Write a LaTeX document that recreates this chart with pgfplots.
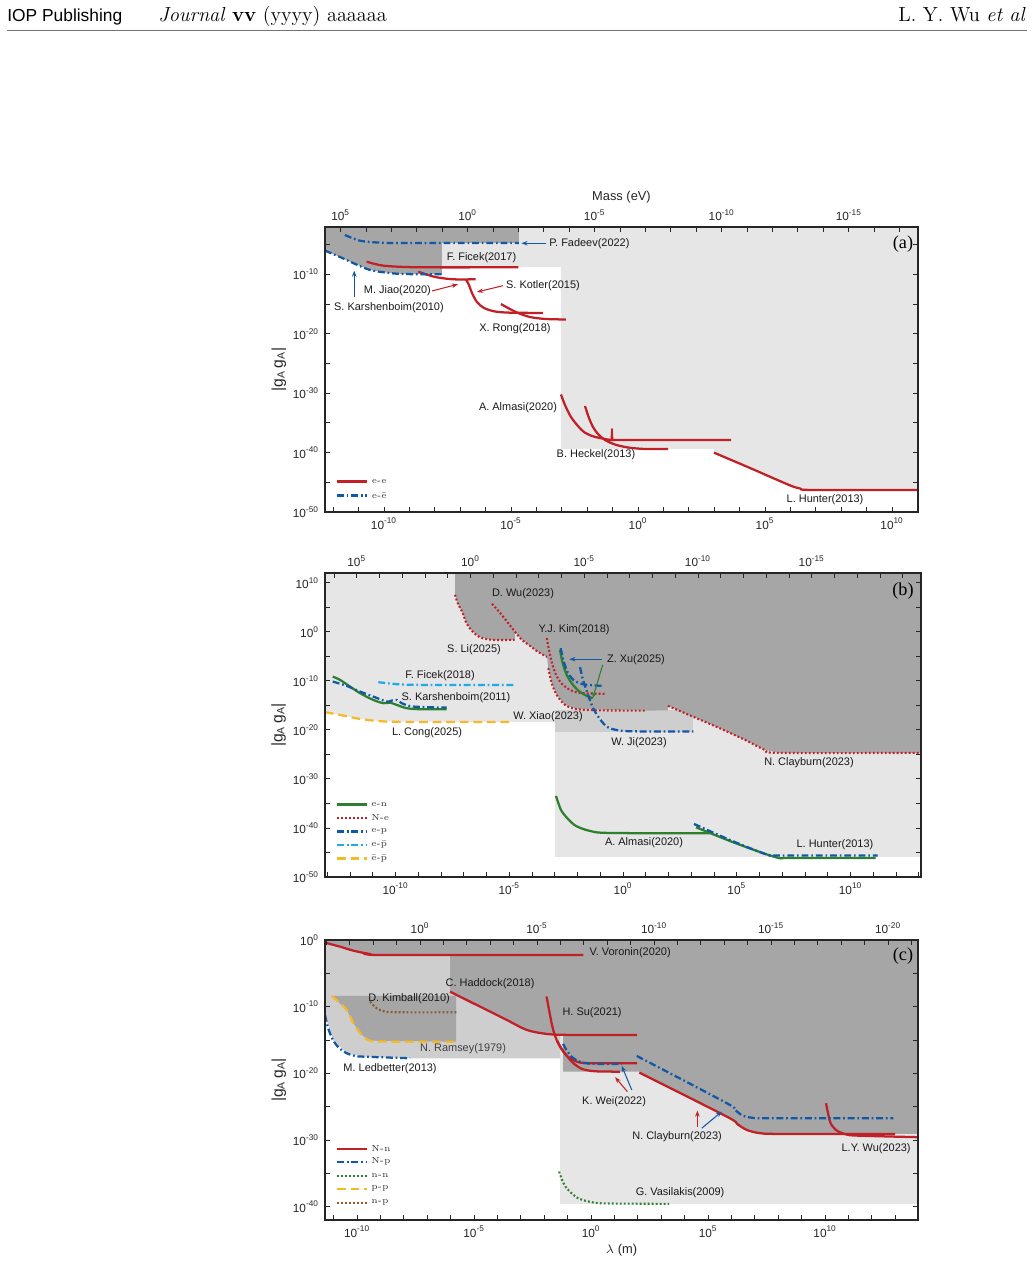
\documentclass[border=0pt]{standalone}
\usepackage{pgfplots}
\pgfplotsset{compat=1.18}
\usepackage{fontspec}
\newfontfamily\hel{Liberation Sans}
\newfontfamily\tnr{Liberation Serif}
\usetikzlibrary{arrows.meta}

\newcommand{\tp}[1]{10\textsuperscript{#1}}

\definecolor{cred}{RGB}{192,32,38}
\definecolor{cblue}{RGB}{18,88,165}
\definecolor{cgreen}{RGB}{45,128,45}
\definecolor{clblue}{RGB}{30,170,235}
\definecolor{cyel}{RGB}{245,186,40}
\definecolor{cbrown}{RGB}{140,90,50}
\definecolor{gdark}{RGB}{166,166,166}
\definecolor{glight}{RGB}{230,230,230}
\definecolor{gmid}{RGB}{206,206,206}

\tikzset{
  solidl/.style={line width=1.3pt},
  dashdotl/.style={line width=1.3pt, dash pattern=on 4pt off 1.6pt on 1pt off 1.6pt},
  dotl/.style={line width=1.2pt, dash pattern=on 1.1pt off 1.2pt},
  dashl/.style={line width=1.3pt, dash pattern=on 5pt off 2.8pt},
  lab/.style={font=\hel\fontsize{6.3}{7}\selectfont, inner sep=0pt, text=black!90},
  leg/.style={font=\fontsize{5}{5.5}\selectfont, inner sep=0pt, anchor=west, text=black!80},
  arr/.style={line width=0.6pt, -{Stealth[length=3.5pt,width=2.6pt]}},
  plab/.style={font=\tnr\fontsize{10.5}{11}\selectfont, inner sep=0pt},
}

\pgfplotsset{
  pan/.style={
    scale only axis, anchor=south west, axis on top,
    axis line style={line width=0.8pt, black!85},
    tick style={black!85, line width=0.5pt},
    major tick length=3pt, minor tick length=3pt,
    tick align=inside,
    xtick pos=bottom, ytick pos=both, yticklabel pos=left,
    ticklabel style={font=\hel\fontsize{6.8}{7}\selectfont, text=black!85},
    ylabel={|g\textsubscript{A}\,g\textsubscript{A}|},
    ylabel style={font=\hel\fontsize{9}{10}\selectfont, text=black!85,
      at={(axis description cs:-0.078,0.5)}, anchor=center},
  },
  topax/.style={
    scale only axis, anchor=south west,
    axis x line*=top, axis y line=none,
    axis line style={line width=0.8pt, black!85, -},
    tick style={black!85, line width=0.5pt},
    major tick length=3pt, minor tick length=3pt,
    tick align=inside,
    x dir=reverse, ymin=0, ymax=1,
    ticklabel style={font=\hel\fontsize{6.8}{7}\selectfont, text=black!85},
    xlabel style={font=\hel\fontsize{7.4}{8}\selectfont, text=black!85,
      at={(axis description cs:0.5,1.105)}, anchor=center},
  },
}

\begin{document}
\begin{tikzpicture}
\path[use as bounding box] (0,0) rectangle (594.96pt,-727.31pt);
\begin{scope}[x=0.5754pt,y=-0.5754pt]
  \coordinate (pa) at (325,512);
  \coordinate (pb) at (325,877);
  \coordinate (pc) at (325,1220);
  \node[anchor=base west, inner sep=0pt, font=\hel\fontsize{10}{12}\selectfont] at (7,22) {IOP Publishing};
  \node[anchor=base west, inner sep=0pt, font=\fontsize{11.7}{13}\selectfont] at (158,22) {\textit{Journal} \textbf{vv} (yyyy) aaaaaa};
  \node[anchor=base east, inner sep=0pt, font=\fontsize{11.7}{13}\selectfont] at (1026,22) {L. Y. Wu \textit{et al}};
  \draw[black!55, line width=0.5pt] (7,30) -- (1027,30);
\end{scope}

% ---------------- (a) electron couplings ----------------
\begin{axis}[pan, at={(pa)}, width=341.2pt, height=164.0pt,
  xmin=-12.32, xmax=11.02, ymin=-50, ymax=-2,
  xtick={-10,-5,0,5,10}, xticklabels={\tp{-10},\tp{-5},\tp{0},\tp{5},\tp{10}},
  minor xtick={-12,...,11},
  ytick={-50,-40,-30,-20,-10}, yticklabels={\tp{-50},\tp{-40},\tp{-30},\tp{-20},\tp{-10}},
  minor ytick={-45,-35,-25,-15,-5},
]
\addplot[fill=glight, draw=none] coordinates {(-7.717,-2) (11.02,-2) (11.02,-46.29) (6.85,-46.29) (6.378,-46.04) (5.945,-45.45) (2.992,-40.01) (2.992,-39.39) (-3.031,-39.39) (-3.031,-8.74) (-7.717,-8.74)} -- cycle;
\addplot[fill=gdark, draw=none] coordinates {(-12.32,-2) (-4.685,-2) (-4.685,-4.69) (-7.717,-4.69) (-7.717,-9.97) (-9.252,-9.92) (-9.882,-9.70) (-10.551,-9.24) (-11.22,-8.06) (-11.732,-7.05) (-12.32,-5.99)} -- cycle;
% e-e
\addplot[cred, solidl, smooth] coordinates {(-10.681,-7.84) (-10.354,-8.23) (-9.894,-8.57) (-8.583,-8.79) (-4.713,-8.79)};
\addplot[cred, solidl, smooth] coordinates {(-8.650,-9.53) (-8.268,-10.08) (-7.925,-10.47) (-7.283,-10.81) (-6.390,-10.81)};
\addplot[cred, solidl, smooth] coordinates {(-6.772,-10.84) (-6.654,-11.77) (-6.535,-13.12) (-6.339,-14.63) (-6.063,-15.64) (-5.630,-16.23) (-5.039,-16.43) (-3.740,-16.48)};
\addplot[cred, solidl, smooth] coordinates {(-5.394,-14.97) (-5.118,-15.64) (-4.724,-16.48) (-4.252,-17.16) (-3.661,-17.49) (-2.835,-17.58)};
\addplot[cred, solidl, smooth] coordinates {(-3.031,-30.21) (-2.874,-31.98) (-2.638,-34.0) (-2.362,-35.52) (-2.126,-36.53) (-1.811,-37.20) (-1.496,-37.54) (-1.083,-37.85) (-0.472,-37.87) (3.661,-37.87)};
\addplot[cred, line width=0.9pt, line join=round] coordinates {(-1.05,-37.7) (-1.024,-36.02) (-1.0,-37.7)};
\addplot[cred, solidl, smooth] coordinates {(-2.087,-32.15) (-1.929,-34.17) (-1.772,-35.68) (-1.575,-36.86) (-1.299,-37.87) (-0.906,-38.63) (-0.394,-39.14) (0.276,-39.39) (1.181,-39.39)};
\addplot[cred, solidl, smooth] coordinates {(2.992,-40.01) (4.409,-42.59) (5.945,-45.45) (6.378,-46.04) (6.85,-46.29) (11.02,-46.29)};
% e-ebar
\addplot[cblue, dashdotl, smooth] coordinates {(-12.32,-5.99) (-11.732,-7.05) (-11.22,-8.06) (-10.551,-9.24) (-9.882,-9.70) (-9.252,-9.92) (-7.717,-9.97)};
\addplot[cblue, dashdotl, smooth] coordinates {(-11.535,-3.35) (-10.945,-4.31) (-10.157,-4.64) (-9.37,-4.69) (-4.685,-4.69)};
% key
\addplot[cred, solidl] coordinates {(-11.85,-44.86) (-10.67,-44.86)};
\addplot[cblue, dashdotl] coordinates {(-11.85,-47.22) (-10.67,-47.22)};
\node[leg] at (axis cs:-10.49,-44.86) {e-e};
\node[leg] at (axis cs:-10.49,-47.22) {e-\=e};
% labels
\node[lab, anchor=west] at (axis cs:-3.504,-4.74) {P. Fadeev(2022)};
\draw[cblue, arr] (axis cs:-3.602,-4.74) -- (axis cs:-4.587,-4.74);
\node[lab] at (axis cs:-6.161,-7.22) {F. Ficek(2017)};
\node[lab] at (axis cs:-9.469,-12.78) {M. Jiao(2020)};
\draw[cred, arr] (axis cs:-8.11,-12.78) -- (axis cs:-7.087,-11.65);
\node[lab] at (axis cs:-3.740,-11.85) {S. Kotler(2015)};
\draw[cred, arr] (axis cs:-5.315,-11.89) -- (axis cs:-6.339,-12.95);
\node[lab] at (axis cs:-9.803,-15.59) {S. Karshenboim(2010)};
\draw[cblue, arr] (axis cs:-11.169,-13.74) -- (axis cs:-11.169,-9.36);
\node[lab] at (axis cs:-4.843,-19.18) {X. Rong(2018)};
\node[lab] at (axis cs:-4.724,-32.48) {A. Almasi(2020)};
\node[lab] at (axis cs:-1.654,-40.40) {B. Heckel(2013)};
\node[lab] at (axis cs:7.362,-47.98) {L. Hunter(2013)};
\node[plab] at (axis cs:10.43,-4.86) {(a)};
\end{axis}
\begin{axis}[topax, at={(pa)}, width=341.2pt, height=164.0pt,
  xmin=-17.725, xmax=5.615,
  xtick={-15,-10,-5,0,5}, xticklabels={\tp{-15},\tp{-10},\tp{-5},\tp{0},\tp{5}},
  minor xtick={-17,...,5}, xlabel={Mass (eV)}]
\end{axis}

% ---------------- (b) electron-nucleon couplings ----------------
\begin{axis}[pan, at={(pb)}, width=342.94pt, height=174.92pt,
  xmin=-13.1, xmax=13.1, ymin=-50, ymax=12,
  xtick={-10,-5,0,5,10}, xticklabels={\tp{-10},\tp{-5},\tp{0},\tp{5},\tp{10}},
  minor xtick={-13,...,13},
  ytick={-50,-40,-30,-20,-10,0,10}, yticklabels={\tp{-50},\tp{-40},\tp{-30},\tp{-20},\tp{-10},\tp{0},\tp{10}},
  minor ytick={-45,-35,-25,-15,-5,5},
]
\addplot[fill=glight, draw=none] coordinates {(-13.1,12) (13.1,12) (13.1,-45.92) (-2.989,-45.92) (-2.989,-18.37) (-4.835,-18.37) (-10.387,-18.31) (-10.68,-18.22) (-11.56,-17.76) (-12.44,-16.94) (-13.1,-16.39)} -- cycle;
\addplot[fill=gmid, draw=none] coordinates {(-2.989,-16.02) (3.077,-16.02) (3.077,-20.35) (-2.989,-20.35)} -- cycle;
\addplot[fill=gdark, draw=none] coordinates {(-7.385,12) (13.1,12) (13.1,-24.69) (6.901,-24.69) (6.242,-24.08) (5.363,-22.04) (4.264,-19.69) (2.945,-17.04) (1.978,-15.10) (1.978,-16.02) (1.042,-16.06) (-2.035,-15.78) (-2.549,-14.90) (-2.914,-12.86) (-3.134,-10.47) (-3.284,-7.41) (-3.341,-5.10) (-3.736,-4.08) (-4.088,-2.86) (-4.440,-1.63) (-4.747,0.0) (-4.760,-1.63) (-5.758,-1.63) (-6.303,-1.08) (-6.681,0.41) (-6.901,1.94) (-7.042,3.82) (-7.253,5.71) (-7.385,7.55)} -- cycle;
% N-e
\addplot[cred, dotl, smooth] coordinates {(-7.385,7.55) (-7.253,5.71) (-7.042,3.82) (-6.901,1.94) (-6.681,0.41) (-6.303,-1.08) (-5.758,-1.63) (-4.760,-1.63)};
\addplot[cred, dotl, smooth] coordinates {(-5.758,5.71) (-5.407,3.88) (-5.055,1.84) (-4.747,0.0) (-4.440,-1.63) (-4.088,-2.86) (-3.736,-4.08) (-3.341,-5.10)};
\addplot[cred, dotl, smooth] coordinates {(-3.354,-1.29) (-3.253,-3.67) (-3.121,-6.33) (-2.945,-8.78) (-2.681,-10.61) (-2.330,-11.84) (-1.890,-12.45) (-0.791,-12.65)};
\addplot[cred, dotl, smooth] coordinates {(-3.284,-7.41) (-3.134,-10.47) (-2.914,-12.86) (-2.549,-14.90) (-2.035,-15.78) (-1.011,-16.02) (1.042,-16.06)};
\addplot[cred, dotl, smooth] coordinates {(1.978,-15.10) (2.945,-17.04) (4.264,-19.69) (5.363,-22.04) (6.242,-24.08) (6.901,-24.69) (13.1,-24.69)};
% e-n and e-p
\addplot[cgreen, solidl, smooth] coordinates {(-2.769,-3.67) (-2.651,-6.39) (-2.475,-8.78) (-2.255,-10.47) (-1.965,-11.98) (-1.596,-13.06) (-1.332,-13.53)};
\addplot[cblue, dashdotl, smooth] coordinates {(-2.738,-3.33) (-2.624,-5.71) (-2.448,-8.10) (-2.185,-9.80) (-1.815,-10.61) (-1.376,-10.88) (-0.936,-11.02)};
\addplot[cblue, dashdotl, smooth] coordinates {(-1.890,-7.20) (-1.758,-9.80) (-1.582,-12.24) (-1.376,-14.90) (-1.143,-16.94) (-0.716,-19.33) (-0.132,-20.14) (0.747,-20.31) (3.090,-20.35)};
\addplot[cgreen, solidl, smooth] coordinates {(-2.945,-33.47) (-2.725,-36.33) (-2.418,-38.16) (-2.066,-39.59) (-1.451,-40.61) (-0.571,-41.02) (3.824,-41.08)};
\addplot[cgreen, solidl, smooth] coordinates {(3.209,-39.86) (4.923,-43.06) (6.725,-45.98) (7.341,-46.12) (11.10,-46.12)};
\addplot[cblue, dashdotl, smooth] coordinates {(3.121,-39.18) (4.703,-42.45) (6.374,-45.51) (6.901,-45.61) (11.19,-45.61)};
\addplot[cgreen, solidl, smooth] coordinates {(-12.76,-9.12) (-12.44,-9.80) (-12.0,-11.16) (-11.56,-12.51) (-10.98,-13.88) (-10.54,-14.55) (-10.24,-14.45) (-9.947,-14.90) (-9.508,-15.57) (-8.923,-15.78) (-7.749,-15.78)};
\addplot[cblue, dashdotl, smooth] coordinates {(-12.76,-10.14) (-12.15,-11.02) (-11.56,-12.18) (-10.98,-13.20) (-10.39,-14.22) (-10.17,-14.02) (-9.947,-13.88) (-9.727,-14.55) (-9.218,-15.24) (-7.749,-15.45)};
% e-pbar and ebar-pbar
\addplot[clblue, dashdotl, smooth] coordinates {(-10.756,-10.27) (-9.947,-10.67) (-8.923,-10.82) (-4.822,-10.82)};
\addplot[cyel, dashl, smooth] coordinates {(-13.1,-16.39) (-12.44,-16.94) (-11.56,-17.76) (-10.68,-18.22) (-9.657,-18.37) (-4.892,-18.37)};
% key
\addplot[cgreen, solidl] coordinates {(-12.57,-35.20) (-11.25,-35.20)};
\addplot[cred, dotl] coordinates {(-12.57,-37.96) (-11.25,-37.96)};
\addplot[cblue, dashdotl] coordinates {(-12.57,-40.71) (-11.25,-40.71)};
\addplot[clblue, dashdotl] coordinates {(-12.57,-43.47) (-11.25,-43.47)};
\addplot[cyel, dashl] coordinates {(-12.57,-46.22) (-11.25,-46.22)};
\node[leg] at (axis cs:-11.08,-35.20) {e-n};
\node[leg] at (axis cs:-11.08,-37.96) {N-e};
\node[leg] at (axis cs:-11.08,-40.71) {e-p};
\node[leg] at (axis cs:-11.08,-43.47) {e-\=p};
\node[leg] at (axis cs:-11.08,-46.22) {\=e-\=p};
% labels
\node[lab] at (axis cs:-4.396,7.76) {D. Wu(2023)};
\node[plab] at (axis cs:12.31,8.37) {(b)};
\node[lab] at (axis cs:-2.154,0.41) {Y.J. Kim(2018)};
\node[lab] at (axis cs:0.571,-5.71) {Z. Xu(2025)};
\draw[cblue, arr] (axis cs:-0.936,-5.59) -- (axis cs:-2.360,-5.59);
\draw[cgreen, arr] (axis cs:-0.892,-6.73) -- (axis cs:-1.332,-13.53);
\node[lab] at (axis cs:-6.549,-3.67) {S. Li(2025)};
\node[lab] at (axis cs:-8.044,-8.98) {F. Ficek(2018)};
\node[lab] at (axis cs:-7.341,-13.47) {S. Karshenboim(2011)};
\node[lab] at (axis cs:-3.297,-17.35) {W. Xiao(2023)};
\node[lab] at (axis cs:-8.615,-20.61) {L. Cong(2025)};
\node[lab] at (axis cs:0.703,-22.65) {W. Ji(2023)};
\node[lab] at (axis cs:8.176,-26.73) {N. Clayburn(2023)};
\node[lab] at (axis cs:0.923,-43.06) {A. Almasi(2020)};
\node[lab] at (axis cs:9.319,-43.47) {L. Hunter(2013)};
\end{axis}
\begin{axis}[topax, at={(pb)}, width=342.94pt, height=174.92pt,
  xmin=-19.805, xmax=6.395,
  xtick={-15,-10,-5,0,5}, xticklabels={\tp{-15},\tp{-10},\tp{-5},\tp{0},\tp{5}},
  minor xtick={-19,...,6}]
\end{axis}

% ---------------- (c) nucleon couplings ----------------
\begin{axis}[pan, at={(pc)}, width=341.21pt, height=161.11pt,
  xmin=-11.37, xmax=13.97, ymin=-42, ymax=0,
  xtick={-10,-5,0,5,10}, xticklabels={\tp{-10},\tp{-5},\tp{0},\tp{5},\tp{10}},
  minor xtick={-11,...,13},
  ytick={-40,-30,-20,-10,0}, yticklabels={\tp{-40},\tp{-30},\tp{-20},\tp{-10},\tp{0}},
  minor ytick={-35,-25,-15,-5},
  xlabel={$\lambda$ (m)},
  xlabel style={font=\hel\fontsize{7.4}{8}\selectfont, text=black!85, at={(axis description cs:0.5,-0.107)}, anchor=center},
]
\addplot[fill=glight, draw=none] coordinates {(-1.325,0) (13.97,0) (13.97,-39.58) (-1.325,-39.58)} -- cycle;
\addplot[fill=gmid, draw=none] coordinates {(-11.37,0) (-1.325,0) (-1.325,-17.74) (-7.735,-17.74) (-9.731,-17.50) (-10.44,-16.99) (-11.03,-14.99) (-11.37,-11.24)} -- cycle;
\addplot[fill=gdark, draw=none] coordinates {(-11.37,0) (13.97,0) (13.97,-29.09) (12.99,-29.09) (7.222,-28.98) (6.654,-28.49) (5.799,-26.49) (2.064,-19.90) (2.064,-19.75) (-1.197,-19.75) (-1.197,-14.17) (-1.893,-14.09) (-2.748,-13.49) (-3.603,-11.99) (-4.457,-10.49) (-5.171,-9.25) (-6.026,-7.75) (-6.026,-2.25) (-8.731,-2.25) (-9.444,-2.10) (-10.158,-1.60) (-10.726,-1.00) (-11.37,-0.40)} -- cycle;
\addplot[fill=gdark, draw=none] coordinates {(-11.08,-8.40) (-5.769,-8.40) (-5.769,-15.25) (-9.444,-15.10) (-9.799,-14.24) (-10.158,-12.49) (-10.44,-10.49)} -- cycle;
% N-n
\addplot[cred, solidl, smooth] coordinates {(-11.37,-0.40) (-10.726,-1.00) (-10.158,-1.60) (-9.444,-2.10) (-8.731,-2.25) (-0.329,-2.25)};
\addplot[cred, solidl, smooth] coordinates {(-6.026,-7.75) (-5.171,-9.25) (-4.457,-10.49) (-3.603,-11.99) (-2.748,-13.49) (-1.893,-14.09) (-0.897,-14.24) (1.966,-14.24)};
\addplot[cred, solidl, smooth] coordinates {(-1.902,-8.47) (-1.795,-10.49) (-1.688,-12.44) (-1.581,-13.94) (-1.453,-15.14) (-1.282,-16.19) (-1.068,-17.24) (-0.769,-18.44) (-0.385,-19.34) (0.171,-19.69) (1.239,-19.75)};
\addplot[cred, solidl, smooth] coordinates {(-1.453,-15.14) (-1.239,-16.49) (-0.983,-17.54) (-0.641,-18.22) (-0.128,-18.47) (1.966,-18.49)};
\addplot[cred, solidl, smooth] coordinates {(2.064,-19.90) (5.799,-26.49) (6.239,-27.59) (6.654,-28.49) (7.222,-28.98) (8.077,-29.09) (12.99,-29.09)};
\addplot[cred, solidl, smooth] coordinates {(10.04,-24.48) (10.21,-27.24) (10.38,-28.19) (10.57,-28.74) (10.90,-29.16) (11.35,-29.34) (13.97,-29.58)};
% N-p
\addplot[cblue, dashdotl, smooth] coordinates {(-11.37,-11.24) (-11.24,-13.19) (-11.03,-14.99) (-10.77,-16.19) (-10.44,-16.99) (-10.09,-17.39) (-9.731,-17.50) (-7.735,-17.74)};
\addplot[cblue, dashdotl, smooth] coordinates {(-1.197,-15.59) (-1.026,-16.64) (-0.769,-17.69) (-0.385,-18.37) (0.171,-18.59) (1.325,-18.59)};
\addplot[cblue, dashdotl, smooth] coordinates {(1.953,-17.39) (5.799,-24.48) (6.154,-25.49) (6.509,-26.39) (7.081,-26.73) (8.077,-26.73) (12.92,-26.73)};
% n-n, p-p, n-p
\addplot[cgreen, dotl, smooth] coordinates {(-1.368,-34.74) (-1.239,-35.98) (-1.094,-36.99) (-0.897,-37.78) (-0.556,-38.73) (-0.043,-39.28) (0.598,-39.51) (3.333,-39.58)};
\addplot[cyel, dashl, smooth] coordinates {(-11.08,-8.40) (-10.44,-10.49) (-10.158,-12.49) (-9.799,-14.24) (-9.444,-15.10) (-8.59,-15.25) (-5.769,-15.25)};
\addplot[cbrown, dotl, smooth] coordinates {(-9.444,-9.25) (-9.158,-10.24) (-8.803,-10.75) (-8.162,-10.84) (-5.739,-10.84)};
% key
\addplot[cred, solidl] coordinates {(-10.855,-31.33) (-9.573,-31.33)};
\addplot[cblue, dashdotl] coordinates {(-10.855,-33.28) (-9.573,-33.28)};
\addplot[cgreen, dotl] coordinates {(-10.855,-35.38) (-9.573,-35.38)};
\addplot[cyel, dashl] coordinates {(-10.855,-37.33) (-9.573,-37.33)};
\addplot[cbrown, dotl] coordinates {(-10.855,-39.43) (-9.573,-39.43)};
\node[leg] at (axis cs:-9.40,-31.33) {N-n};
\node[leg] at (axis cs:-9.40,-33.28) {N-p};
\node[leg] at (axis cs:-9.40,-35.38) {n-n};
\node[leg] at (axis cs:-9.40,-37.33) {p-p};
\node[leg] at (axis cs:-9.40,-39.43) {n-p};
% labels
\node[lab] at (axis cs:1.667,-1.95) {V. Voronin(2020)};
\node[plab] at (axis cs:13.33,-2.40) {(c)};
\node[lab] at (axis cs:-4.316,-6.60) {C. Haddock(2018)};
\node[lab] at (axis cs:-7.778,-8.85) {D. Kimball(2010)};
\node[lab] at (axis cs:0.043,-10.94) {H. Su(2021)};
\node[lab, text=black!75] at (axis cs:-5.470,-16.34) {N. Ramsey(1979)};
\node[lab] at (axis cs:-8.590,-19.34) {M. Ledbetter(2013)};
\node[lab] at (axis cs:0.983,-24.29) {K. Wei(2022)};
\draw[cred, arr] (axis cs:1.551,-22.74) -- (axis cs:1.026,-20.58);
\draw[cblue, arr] (axis cs:1.739,-22.49) -- (axis cs:1.312,-18.89);
\node[lab] at (axis cs:3.675,-29.54) {N. Clayburn(2023)};
\draw[cred, arr] (axis cs:4.543,-28.08) -- (axis cs:4.543,-25.59);
\draw[cblue, arr] (axis cs:4.731,-28.23) -- (axis cs:5.585,-25.74);
\node[lab] at (axis cs:12.18,-31.33) {L.Y. Wu(2023)};
\node[lab] at (axis cs:3.803,-37.93) {G. Vasilakis(2009)};
\end{axis}
\begin{axis}[topax, at={(pc)}, width=341.21pt, height=161.11pt,
  xmin=-21.28, xmax=4.06,
  xtick={-20,-15,-10,-5,0}, xticklabels={\tp{-20},\tp{-15},\tp{-10},\tp{-5},\tp{0}},
  minor xtick={-21,...,4}]
\end{axis}
\end{tikzpicture}
\end{document}
